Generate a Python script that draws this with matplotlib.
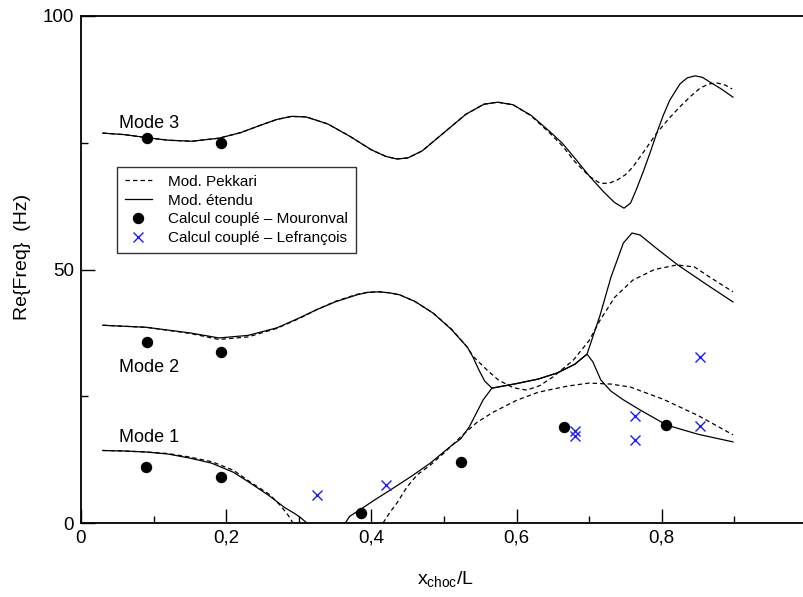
import numpy as np
import matplotlib
matplotlib.use("Agg")
import matplotlib.pyplot as plt
from matplotlib.ticker import FixedLocator, FixedFormatter

plt.rcParams['font.family'] = ['Liberation Sans', 'DejaVu Sans']
plt.rcParams['mathtext.fontset'] = 'custom'
plt.rcParams['mathtext.rm'] = 'Liberation Sans'

# Mode 1 - Mod. etendu (solid), two branches
m1_sol_a_x = [0.03, 0.06, 0.09, 0.12, 0.15, 0.18, 0.21, 0.233, 0.26, 0.28, 0.295, 0.303, 0.311]
m1_sol_a_y = [14.3, 14.2, 14.0, 13.6, 12.8, 11.8, 10.0, 7.9, 5.3, 3.1, 1.8, 1.0, 0.0]
m1_sol_b_x = [0.364, 0.370, 0.384, 0.405, 0.426, 0.455, 0.481, 0.508, 0.523, 0.535, 0.545, 0.554, 0.566,
              0.60, 0.63, 0.656, 0.68, 0.697, 0.705, 0.716, 0.730, 0.747, 0.77, 0.807, 0.85, 0.898]
m1_sol_b_y = [0.0, 1.3, 2.6, 4.6, 6.5, 9.2, 11.8, 15.0, 16.6, 19.0, 21.8, 24.3, 26.6,
              27.5, 28.4, 29.6, 31.3, 33.3, 31.8, 28.2, 26.0, 24.3, 22.3, 19.3, 17.5, 16.0]

# Mode 1 - Mod. Pekkari (dashed)
m1_dash_a_x = [0.03, 0.06, 0.09, 0.12, 0.15, 0.18, 0.21, 0.233, 0.26, 0.275, 0.285, 0.292]
m1_dash_a_y = [14.3, 14.2, 14.0, 13.7, 13.0, 12.1, 10.4, 8.1, 5.6, 3.4, 1.6, 0.0]
m1_dash_b_x = [0.416, 0.426, 0.435, 0.449, 0.463, 0.481, 0.50, 0.523, 0.545, 0.567, 0.60, 0.63, 0.67,
               0.70, 0.73, 0.757, 0.802, 0.85, 0.898]
m1_dash_b_y = [0.0, 2.2, 3.9, 7.1, 9.5, 11.4, 13.8, 17.0, 19.8, 21.8, 24.2, 25.8, 27.0,
               27.6, 27.4, 26.8, 24.4, 21.2, 17.4]

# Mode 2
m2_sol_x = [0.03, 0.09, 0.15, 0.19, 0.23, 0.27, 0.30, 0.325, 0.35, 0.38, 0.395, 0.41, 0.425, 0.439,
            0.46, 0.485, 0.51, 0.532, 0.540, 0.548, 0.556, 0.566, 0.60, 0.63, 0.656, 0.68, 0.697,
            0.715, 0.73, 0.747, 0.759, 0.770, 0.795, 0.822, 0.86, 0.898]
m2_sol_y = [39.0, 38.6, 37.5, 36.5, 37.0, 38.5, 40.4, 42.1, 43.6, 45.0, 45.5, 45.6, 45.4, 45.0,
            43.7, 41.4, 38.2, 34.7, 32.7, 30.2, 28.0, 26.6, 27.5, 28.4, 29.6, 31.3, 33.3,
            41.0, 48.5, 55.2, 57.2, 56.8, 53.9, 50.9, 47.2, 43.6]
m2_dash_x = [0.03, 0.09, 0.15, 0.19, 0.23, 0.27, 0.30, 0.325, 0.35, 0.38, 0.395, 0.41, 0.425, 0.439,
             0.46, 0.485, 0.51, 0.532, 0.540, 0.559, 0.575, 0.595, 0.614, 0.632, 0.650, 0.678,
             0.70, 0.715, 0.735, 0.760, 0.79, 0.821, 0.845, 0.866, 0.898]
m2_dash_y = [39.0, 38.6, 37.4, 36.2, 36.7, 38.4, 40.3, 42.1, 43.7, 45.1, 45.5, 45.6, 45.4, 45.0,
             43.7, 41.4, 38.3, 34.7, 32.9, 30.2, 28.2, 26.7, 26.2, 27.1, 28.8, 32.1,
             36.0, 40.0, 44.5, 47.9, 50.0, 50.9, 50.5, 48.5, 45.6]

# Mode 3
m3_sol_x = [0.03, 0.06, 0.091, 0.12, 0.153, 0.19, 0.22, 0.25, 0.27, 0.29, 0.31, 0.34, 0.37, 0.40,
            0.42, 0.435, 0.45, 0.47, 0.50, 0.53, 0.555, 0.574, 0.595, 0.62, 0.645, 0.663, 0.68,
            0.701, 0.72, 0.735, 0.748, 0.757, 0.765, 0.775, 0.785, 0.793, 0.802, 0.811, 0.825,
            0.835, 0.846, 0.856, 0.866, 0.882, 0.898]
m3_sol_y = [76.9, 76.6, 76.0, 75.5, 75.3, 75.9, 77.0, 78.6, 79.6, 80.2, 80.1, 78.7, 76.3, 73.6,
            72.3, 71.8, 72.0, 73.4, 77.0, 80.6, 82.6, 83.0, 82.5, 80.4, 77.3, 74.9, 72.0,
            68.3, 65.3, 63.2, 62.1, 63.1, 65.8, 69.5, 73.5, 76.9, 80.4, 83.4, 86.6,
            87.8, 88.2, 87.9, 87.0, 85.6, 84.0]
m3_dash_x = [0.03, 0.06, 0.091, 0.12, 0.153, 0.19, 0.22, 0.25, 0.27, 0.29, 0.31, 0.34, 0.37, 0.40,
             0.42, 0.435, 0.45, 0.47, 0.50, 0.53, 0.555, 0.574, 0.595, 0.62, 0.645, 0.663, 0.68,
             0.70, 0.715, 0.727, 0.738, 0.750, 0.760, 0.775, 0.793, 0.81, 0.825, 0.84, 0.853,
             0.865, 0.876, 0.887, 0.897]
m3_dash_y = [76.9, 76.6, 76.0, 75.5, 75.3, 75.9, 77.0, 78.6, 79.6, 80.2, 80.1, 78.7, 76.3, 73.6,
             72.3, 71.8, 72.0, 73.4, 77.0, 80.6, 82.6, 83.0, 82.5, 80.3, 77.0, 74.4, 71.3,
             68.4, 67.0, 67.0, 67.6, 68.7, 70.2, 73.2, 76.9, 79.8, 82.1, 84.2, 85.8,
             86.6, 86.8, 86.4, 85.6]

# Calcul couple - Mouronval
mour_x = [0.090, 0.193, 0.386, 0.523, 0.665, 0.806, 0.091, 0.193, 0.091, 0.193]
mour_y = [11.0, 9.1, 2.0, 12.0, 19.0, 19.4, 35.7, 33.7, 75.9, 75.0]

# Calcul couple - Lefrancois
lef_x = [0.325, 0.420, 0.680, 0.680, 0.763, 0.763, 0.852, 0.853]
lef_y = [5.5, 7.4, 18.2, 17.2, 21.2, 16.3, 19.1, 32.7]

mode_labels = ["Mode 1", "Mode 2", "Mode 3"]
mode_label_y = [16.0, 29.8, 77.9]

W, H = 804, 597
fig = plt.figure(figsize=(W / 100, H / 100), dpi=100)
ax = fig.add_axes([81 / W, (H - 523) / H, 726 / W, 507 / H])

dash = (0, (3.5, 2.5))
lw = 0.9
for xs, ys in [(m1_dash_a_x, m1_dash_a_y), (m1_dash_b_x, m1_dash_b_y), (m2_dash_x, m2_dash_y), (m3_dash_x, m3_dash_y)]:
	ax.plot(xs, ys, color='black', lw=lw, ls=dash)
for xs, ys in [(m1_sol_a_x, m1_sol_a_y), (m1_sol_b_x, m1_sol_b_y), (m2_sol_x, m2_sol_y), (m3_sol_x, m3_sol_y)]:
	ax.plot(xs, ys, color='black', lw=lw, ls='-')
ax.plot(mour_x, mour_y, 'o', color='black', ms=7.2, ls='none')
ax.plot(lef_x, lef_y, 'x', color='#1a1aff', ms=7.5, mew=1.0, ls='none')

# legend handles only
h1, = ax.plot([], [], color='black', lw=lw, ls=dash)
h2, = ax.plot([], [], color='black', lw=lw, ls='-')
h3, = ax.plot([], [], 'o', color='black', ms=7.2, ls='none')
h4, = ax.plot([], [], 'x', color='#1a1aff', ms=7.5, mew=1.0, ls='none')
leg = ax.legend([h1, h2, h3, h4],
	["Mod. Pekkari", "Mod. étendu", "Calcul couplé – Mouronval", "Calcul couplé – Lefrançois"],
	loc='upper left', bbox_to_anchor=(117 / W, 1 - 167 / H), bbox_transform=fig.transFigure,
	fontsize=11, frameon=True, fancybox=False, borderaxespad=0, borderpad=0.5,
	handlelength=1.8, handletextpad=1.05, labelspacing=0.32)
leg.get_frame().set_edgecolor('black')
leg.get_frame().set_linewidth(1.0)

for lab, yy in zip(mode_labels, mode_label_y):
	ax.text(0.052, yy, lab, fontsize=13, va='baseline', ha='left')

ax.set_xlim(0, 1.0)
ax.set_ylim(0, 100)
ax.xaxis.set_major_locator(FixedLocator([0, 0.2, 0.4, 0.6, 0.8]))
ax.xaxis.set_major_formatter(FixedFormatter(["0", "0,2", "0,4", "0,6", "0,8"]))
ax.xaxis.set_minor_locator(FixedLocator([0.1, 0.3, 0.5, 0.7, 0.9]))
ax.yaxis.set_major_locator(FixedLocator([0, 50, 100]))
ax.yaxis.set_minor_locator(FixedLocator([25, 75]))
ax.tick_params(which='major', direction='in', length=10, width=1, labelsize=13.5, pad=5)
ax.tick_params(which='minor', direction='in', length=5, width=1)
ax.spines['right'].set_visible(False)
for s in ['left', 'bottom', 'top']:
	ax.spines[s].set_linewidth(1.3)

fig.text(445 / W, 1 - 580 / H, r"x$_\mathregular{choc}$/L", fontsize=14, ha='center', va='center')
fig.text(23 / W, 1 - 257 / H, "Re{Freq}  (Hz)", fontsize=14, ha='center', va='center', rotation=90)

fig.savefig("out.png", dpi=100)
